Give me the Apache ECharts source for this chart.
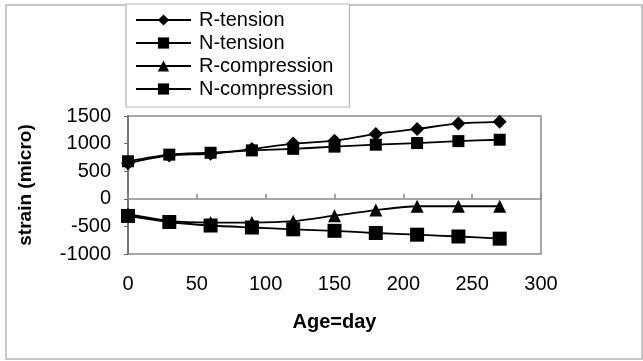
<!DOCTYPE html>
<html>
<head>
<meta charset="utf-8">
<script src="https://cdn.jsdelivr.net/npm/echarts@6/dist/echarts.min.js"></script>
<style>html,body{margin:0;padding:0;background:#fff}#c{width:643px;height:361px}</style>
</head>
<body>
<div id="c"></div>
<script>
var days = [0, 30, 60, 90, 120, 150, 180, 210, 240, 270];
var rTension = [645, 785, 815, 900, 1000, 1052, 1175, 1265, 1365, 1395];
var nTension = [680, 800, 834, 877, 905, 945, 980, 1010, 1045, 1070];
var rCompression = [-280, -400, -430, -430, -405, -305, -205, -135, -135, -135];
var nCompression = [-310, -420, -484, -520, -553, -580, -620, -650, -683, -722];
var xTicks = [0, 50, 100, 150, 200, 250, 300];
var yTicks = [-1000, -500, 0, 500, 1000, 1500];

var FONT = '"Liberation Sans", Arial, sans-serif';
function pairs(ys) { return days.map(function (d, i) { return [d, ys[i]]; }); }
function mk(name, ys, symbol, size) {
  return {
    name: name, type: 'line', data: pairs(ys), smooth: 0.25,
    symbol: symbol, symbolSize: size, showSymbol: true,
    lineStyle: { color: '#000', width: 1.8 },
    itemStyle: { color: '#000' }, z: 3
  };
}
var chart = echarts.init(document.getElementById('c'), null, { renderer: 'canvas' });
chart.setOption({
  animation: false,
  backgroundColor: '#fff',
  graphic: [{
    type: 'rect', shape: { x: 6, y: 5, width: 636, height: 354 },
    style: { fill: 'none', stroke: '#b5b5b5', lineWidth: 1.5 }, z: -1
  }],
  grid: { left: 128, right: 102, top: 116, bottom: 107, show: true, borderColor: '#8a8a8a', borderWidth: 1.5, containLabel: false },
  legend: {
    orient: 'vertical', left: 126, top: 4,
    padding: [6, 16, 8, 9], itemGap: 3, itemWidth: 55, itemHeight: 14,
    backgroundColor: '#fff', borderColor: '#b5b5b5', borderWidth: 1.2,
    textStyle: { fontFamily: FONT, fontSize: 20, color: '#000', padding: [0, 0, 0, 3] },
    data: ['R-tension', 'N-tension', 'R-compression', 'N-compression']
  },
  xAxis: [{
    type: 'value', min: xTicks[0], max: xTicks[xTicks.length - 1], interval: 50,
    position: 'bottom',
    axisLine: { onZero: false, show: false }, axisTick: { show: false }, splitLine: { show: false },
    axisLabel: { fontFamily: FONT, fontSize: 20, color: '#000', margin: 20 },
    name: 'Age=day', nameLocation: 'middle', nameGap: 58,
    nameTextStyle: { fontFamily: FONT, fontSize: 20, fontWeight: 'bold', color: '#000' }
  }, {
    type: 'value', min: xTicks[0], max: xTicks[xTicks.length - 1], interval: 50,
    position: 'bottom',
    axisLine: { onZero: true, onZeroAxisIndex: 0, show: true, lineStyle: { color: '#8a8a8a', width: 1.5 } },
    axisTick: { show: true, inside: true, length: 5, lineStyle: { color: '#8a8a8a', width: 1.5 } },
    axisLabel: { show: false }, splitLine: { show: false }
  }],
  yAxis: {
    type: 'value', min: yTicks[0], max: yTicks[yTicks.length - 1], interval: 500,
    axisLine: { show: true, onZero: false, lineStyle: { color: '#666', width: 1.5 } },
    axisTick: { show: true, length: 4, lineStyle: { color: '#666' } },
    splitLine: { show: false },
    axisLabel: { fontFamily: FONT, fontSize: 20, color: '#000', margin: 17, formatter: function (v) { return String(v); } },
    name: 'strain (micro)', nameLocation: 'middle', nameGap: 93, nameRotate: 90,
    nameTextStyle: { fontFamily: FONT, fontSize: 19, fontWeight: 'bold', color: '#000' }
  },
  series: [
    mk('R-tension', rTension, 'diamond', 14),
    mk('N-tension', nTension, 'rect', 12),
    mk('R-compression', rCompression, 'triangle', 13),
    mk('N-compression', nCompression, 'rect', 14)
  ]
});
</script>
</body>
</html>
